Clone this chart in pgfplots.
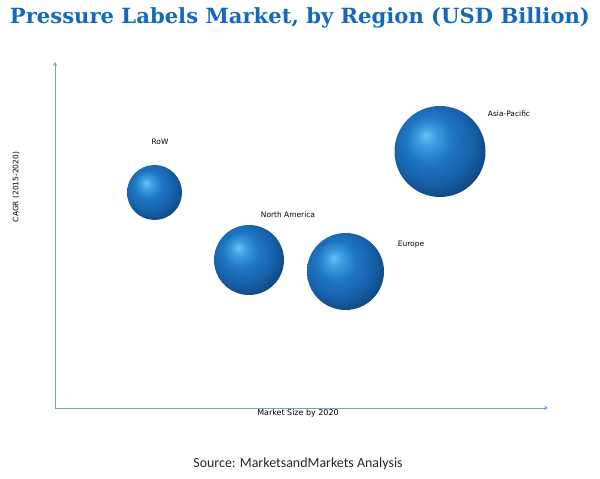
\documentclass[border=0pt]{standalone}
\usepackage{pgfplots}
\pgfplotsset{compat=1.18}
\usepackage{fontspec}
\setmainfont{DejaVu Sans}
\newfontfamily\titlefont{DejaVu Serif}
\newfontfamily\srcfont{Carlito}
\definecolor{titleblue}{RGB}{20,105,190}
\definecolor{axisblue}{RGB}{110,165,215}
\pgfdeclareradialshading{bubble}{\pgfpoint{-8bp}{9bp}}{%
  rgb(0bp)=(0.40,0.76,0.97);
  rgb(5bp)=(0.24,0.62,0.88);
  rgb(13bp)=(0.12,0.46,0.76);
  rgb(22bp)=(0.09,0.38,0.67);
  rgb(30bp)=(0.06,0.28,0.50);
  rgb(50bp)=(0.06,0.28,0.50)}
\pgfdeclareplotmark{bubble}{%
  \pgfpathcircle{\pgfpointorigin}{\pgfplotmarksize}%
  \pgfshadepath{bubble}{0}%
  \pgfusepath{discard}}
\begin{document}
\begin{tikzpicture}
\useasboundingbox (-55bp,-71bp) rectangle (545bp,408bp);
\begin{axis}[
  at={(0,0)}, anchor=south west,
  scale only axis, width=493bp, height=346bp,
  xmin=0, xmax=493, ymin=0, ymax=346,
  axis lines=left,
  axis line style={axisblue, line width=0.8pt},
  xtick=\empty, ytick=\empty,
  clip=false,
]
\addplot[only marks, mark=bubble, mark size=27.5bp] coordinates {(99.5,215.5)};
\addplot[only marks, mark=bubble, mark size=35bp] coordinates {(194,148)};
\addplot[only marks, mark=bubble, mark size=38.5bp] coordinates {(290.5,136.5)};
\addplot[only marks, mark=bubble, mark size=45.5bp] coordinates {(385,256.5)};
\node[font=\fontsize{7.5}{8}\selectfont] at (axis cs:105,266) {RoW};
\node[font=\fontsize{7.5}{8}\selectfont] at (axis cs:233,193) {North America};
\node[font=\fontsize{7.5}{8}\selectfont] at (axis cs:356,163) {Europe};
\node[font=\fontsize{7.5}{8}\selectfont] at (axis cs:454,294) {Asia-Pacific};
\node[font=\fontsize{8}{9}\selectfont] at (axis cs:243,-5) {Market Size by 2020};
\node[font=\fontsize{7.5}{8}\selectfont, rotate=90] at (axis cs:-39,221) {CAGR (2015-2020)};
\end{axis}
\node[titleblue] at (245bp,390bp) {\resizebox{580bp}{\height}{\titlefont\bfseries\fontsize{21}{24}\selectfont Pressure Labels Market, by Region (USD Billion)}};
\node[text=black!85] at (243bp,-56bp) {\srcfont\fontsize{14}{16}\selectfont Source: MarketsandMarkets Analysis};
\end{tikzpicture}
\end{document}
